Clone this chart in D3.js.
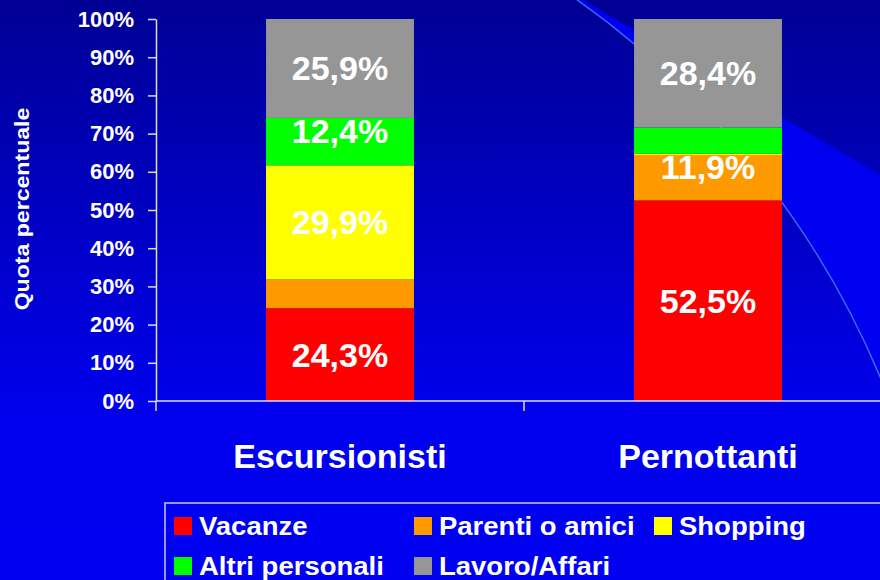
<!DOCTYPE html>
<html><head><meta charset="utf-8">
<script src="https://cdn.jsdelivr.net/npm/d3@7"></script>
<style>
html,body{margin:0;padding:0;background:#0000ee;}
svg{display:block;font-family:"Liberation Sans",Arial,sans-serif;font-weight:bold;}
</style></head>
<body>
<svg id="chart" width="880" height="580"></svg>
<script>
// ---- data ----
const categories = ["Escursionisti", "Pernottanti"];
const seriesNames = ["Vacanze", "Parenti o amici", "Shopping", "Altri personali", "Lavoro/Affari"];
const vacanze        = [24.3, 52.5];
const parentiAmici   = [7.5, 11.9];
const shopping       = [29.9, 0.3];
const altriPersonali = [12.4, 6.9];
const lavoroAffari   = [25.9, 28.4];
const yTicks = [0, 10, 20, 30, 40, 50, 60, 70, 80, 90, 100];
const colors = ["#ff0000", "#ff9900", "#ffff00", "#00ff00", "#969696"];

const series = [vacanze, parentiAmici, shopping, altriPersonali, lavoroAffari];

const svg = d3.select("#chart");
const W = 880, H = 580;

// ---- background ----
const defs = svg.append("defs");
const g1 = defs.append("linearGradient").attr("id", "bg").attr("x1", 0).attr("y1", 0).attr("x2", 0).attr("y2", 1);
g1.append("stop").attr("offset", "0%").attr("stop-color", "#000094");
g1.append("stop").attr("offset", "72%").attr("stop-color", "#0000ee");
g1.append("stop").attr("offset", "100%").attr("stop-color", "#0000f0");
svg.append("rect").attr("width", W).attr("height", H).attr("fill", "url(#bg)");

// decorative swoosh (template background)
const cx = 70, cy = 718, r = 879;
defs.append("clipPath").attr("id", "outside")
  .append("path")
  .attr("d", `M0,0H${W}V${H}H0Z M${cx - r},${cy} a${r},${r} 0 1,0 ${2 * r},0 a${r},${r} 0 1,0 ${-2 * r},0Z`)
  .attr("clip-rule", "evenodd");
svg.append("path")
  .attr("clip-path", "url(#outside)")
  .attr("clip-rule", "evenodd")
  .attr("d", `M583,0 L${W},175 L${W},${H} L0,${H} L0,0Z`)
  .attr("fill", "#0000f0");
svg.append("circle").attr("cx", cx).attr("cy", cy).attr("r", r)
  .attr("fill", "none").attr("stroke", "#3a6cff").attr("stroke-width", 1.4);

// ---- scales ----
const x = d3.scaleBand().domain(categories).range([156, 892]).paddingInner(0.598).paddingOuter(0.299);
const y = d3.scaleLinear().domain([0, 100]).range([401, 19]);

// stack
const rows = categories.map((c, i) => {
  const o = { cat: c };
  seriesNames.forEach((s, j) => o[s] = series[j][i]);
  return o;
});
const stack = d3.stack().keys(seriesNames)(rows);

const it = d3.formatLocale({ decimal: ",", thousands: ".", grouping: [3], currency: ["€", ""] });
const fmt = v => it.format(".1f")(v) + "%";

const barG = svg.append("g");
stack.forEach((layer, j) => {
  barG.selectAll(null).data(layer).enter().append("rect")
    .attr("x", d => x(d.data.cat))
    .attr("width", x.bandwidth())
    .attr("y", d => y(d[1]))
    .attr("height", d => y(d[0]) - y(d[1]))
    .attr("fill", colors[j]);
});

// value labels (shown for segments >= 10%)
const labelNudge = { "Altri personali|Escursionisti": -11, "Parenti o amici|Pernottanti": -11 };
stack.forEach((layer, j) => {
  layer.forEach(d => {
    const v = d[1] - d[0];
    if (v < 10) return;
    const nudge = labelNudge[layer.key + "|" + d.data.cat] || 0;
    svg.append("text")
      .attr("x", x(d.data.cat) + x.bandwidth() / 2)
      .attr("y", (y(d[0]) + y(d[1])) / 2 + 12 + nudge)
      .attr("text-anchor", "middle")
      .attr("fill", "#ffffff")
      .attr("font-size", 34)
      .text(fmt(v));
  });
});

// ---- axes ----
const axisColor = "#dcdcf0";
const yAxis = svg.append("g").attr("transform", "translate(156,0)")
  .call(d3.axisLeft(y).tickValues(yTicks).tickSize(8).tickSizeOuter(0).tickPadding(14).tickFormat(d => d + "%"));
yAxis.selectAll("path,line").attr("stroke", axisColor).attr("stroke-width", 1.5);
yAxis.selectAll("text").attr("fill", "#ffffff").attr("font-size", 22)
  .attr("font-family", "'Liberation Sans',Arial,sans-serif").attr("font-weight", "bold");

// category axis
const xr = x.range();
svg.append("line").attr("x1", xr[0]).attr("x2", xr[1]).attr("y1", y(0)).attr("y2", y(0))
  .attr("stroke", axisColor).attr("stroke-width", 1.5);
d3.range(categories.length + 1).forEach(i => {
  const tx = xr[0] + i * x.step();
  svg.append("line").attr("x1", tx).attr("x2", tx).attr("y1", y(0)).attr("y2", y(0) + 10)
    .attr("stroke", axisColor).attr("stroke-width", 1.5);
});
categories.forEach(c => {
  svg.append("text").attr("x", x(c) + x.bandwidth() / 2).attr("y", 468)
    .attr("text-anchor", "middle").attr("fill", "#ffffff").attr("font-size", 34).text(c);
});

// y title
svg.append("text")
  .attr("transform", "translate(29,209) rotate(-90) scale(1.1,1)")
  .attr("text-anchor", "middle").attr("fill", "#ffffff").attr("font-size", 21)
  .text("Quota percentuale");

// ---- legend ----
svg.append("rect").attr("x", 165).attr("y", 503).attr("width", 740).attr("height", 100)
  .attr("fill", "#0000f0").attr("stroke", "#c8c8e8").attr("stroke-width", 1.5);
const legPos = [[174, 517], [414, 517], [654, 517], [174, 557], [414, 557]];
seriesNames.forEach((s, j) => {
  const [lx, ly] = legPos[j];
  svg.append("rect").attr("x", lx).attr("y", ly).attr("width", 18).attr("height", 18).attr("fill", colors[j]);
  svg.append("text").attr("transform", `translate(${lx + 25},${ly + 18}) scale(1.1,1)`)
    .attr("fill", "#ffffff").attr("font-size", 25).text(s);
});
</script>
</body></html>
